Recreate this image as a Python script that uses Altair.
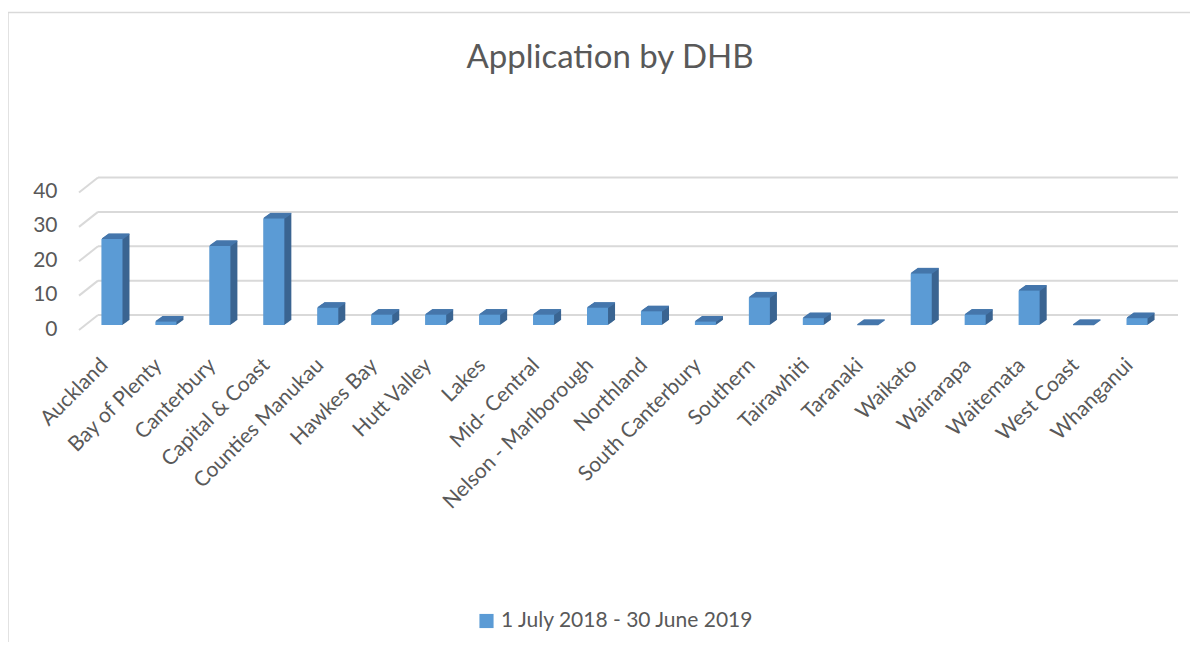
import altair as alt
import pandas as pd

dhb = ["Auckland", "Bay of Plenty", "Canterbury", "Capital & Coast", "Counties Manukau",
       "Hawkes Bay", "Hutt Valley", "Lakes", "Mid- Central", "Nelson - Marlborough",
       "Northland", "South Canterbury", "Southern", "Tairawhiti", "Taranaki",
       "Waikato", "Wairarapa", "Waitemata", "West Coast", "Whanganui"]
applications = [25, 1, 23, 31, 5, 3, 3, 3, 3, 5, 4, 1, 8, 2, 0, 15, 3, 10, 0, 2]
y_ticks = [0, 10, 20, 30, 40]
series_name = "1 July 2018 - 30 June 2019"
chart_title = "Application by DHB"

df = pd.DataFrame({"DHB": dhb, "Applications": applications, "Series": series_name})
grid_df = pd.DataFrame({"tick": y_ticks})
frame_df = pd.DataFrame({"k": [0]})

W, H = 1079, 137.5
FONT = "Lato"
TXT = "#595959"
FRONT = "#5B9BD5"
TOP = "#4677AC"
SIDE = "#3A6491"
GRID = "#D9D9D9"

y_scale = alt.Scale(domain=[0, 40])
y_axis = alt.Axis(title=None, values=y_ticks, domain=False, ticks=False, grid=False,
                  labelFontSize=21, labelColor=TXT, labelFont=FONT,
                  labelPadding=28, labelOffset=14, labelOverlap=False)
y_bar = alt.Y("Applications:Q", scale=y_scale, axis=y_axis)
x_enc = alt.X("DHB:N", sort=dhb,
              scale=alt.Scale(paddingInner=0.61, paddingOuter=0.305),
              axis=alt.Axis(title=None, domain=False, ticks=False, labelAngle=-45,
                            labelAlign="right", labelBaseline="top", labelPadding=39,
                            labelFontSize=21, labelColor=TXT, labelFont=FONT,
                            labelOffset=-15, labelLimit=0, labelOverlap=False))

frame = alt.Chart(frame_df).mark_rect(fill="white", fillOpacity=0, stroke=GRID,
                                      strokeWidth=1.5).encode(
    x=alt.value(-77), x2=alt.value(1300), y=alt.value(-165), y2=alt.value(700))

title_text = alt.Chart(frame_df).mark_text(
    fontSize=33, color=TXT, font=FONT, align="center", baseline="middle").encode(
    text=alt.value(chart_title), x=alt.value(525), y=alt.value(-120))

grid = alt.Chart(grid_df).mark_rule(color=GRID, strokeWidth=2).encode(
    y=alt.Y("tick:Q", scale=y_scale, axis=y_axis),
    x=alt.value(13), x2=alt.value(1093))

slant = alt.Chart(grid_df).mark_rule(color=GRID, strokeWidth=2, yOffset=15).encode(
    y=alt.Y("tick:Q", scale=y_scale, axis=y_axis), y2=alt.Y2("tick:Q"),
    x=alt.value(-6), x2=alt.value(13))

layers = [frame, title_text, grid, slant]

DX, DY, N = 7.0, -5.0, 14
for i in range(1, N + 1):
    ox = DX * i / N
    oy = 10 + DY * i / N
    layers.append(alt.Chart(df).mark_bar(color=SIDE, xOffset=ox, x2Offset=ox,
                                         yOffset=oy, y2Offset=oy).encode(
        x=x_enc, y=y_bar, y2=alt.datum(0)))
for i in range(1, N + 1):
    ox = DX * i / N
    oy = 10 + DY * i / N
    layers.append(alt.Chart(df).mark_bar(color=TOP, xOffset=ox, x2Offset=ox,
                                         yOffset=oy - 0.6, y2Offset=oy + 0.6).encode(
        x=x_enc, y=y_bar, y2=alt.Y2("Applications:Q")))

front = alt.Chart(df).mark_bar(yOffset=10, y2Offset=10).encode(
    x=x_enc,
    y=y_bar,
    y2=alt.datum(0),
    color=alt.Color("Series:N", scale=alt.Scale(range=[FRONT]),
                    legend=alt.Legend(title=None, orient="none", legendX=391, legendY=433,
                                      symbolType="square", symbolSize=200,
                                      symbolStrokeWidth=0, labelFontSize=21,
                                      labelColor=TXT, labelFont=FONT, padding=0,
                                      labelLimit=0)))
layers.append(front)

chart = alt.layer(*layers).properties(
    width=W, height=H,
    autosize=alt.AutoSizeParams(type="none"),
    padding={"left": 77, "top": 169.5, "right": 26, "bottom": 327},
).configure(font=FONT).configure_view(strokeWidth=0, stroke="transparent")

chart.save("out.html", embed_options={"renderer": "svg", "actions": False})
